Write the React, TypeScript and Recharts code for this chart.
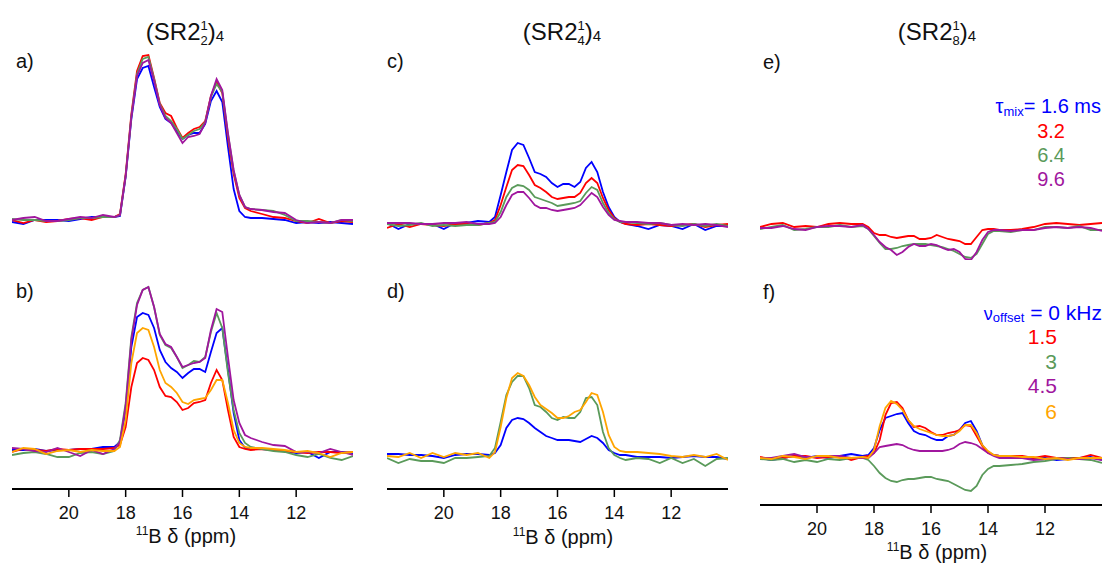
import { LineChart, Line, XAxis, YAxis } from 'recharts';

// chemical shift (ppm), shared by every spectrum
const PPM = [
  22.0, 21.6, 21.2, 20.8, 20.4, 20.0, 19.6, 19.2, 18.8, 18.4,
  18.2, 18.0, 17.8, 17.6, 17.4, 17.2, 17.0, 16.8, 16.6, 16.4, 16.2, 16.0,
  15.8, 15.6, 15.4, 15.2, 15.0, 14.8, 14.6, 14.4, 14.2, 14.0, 13.8, 13.6,
  13.2, 12.8, 12.4, 12.0, 11.6, 11.2, 10.8, 10.4, 10.0,
];
const TICKS = [20, 18, 16, 14, 12];

// a) (SR2 1 2)4, tau_mix series
const A_BLUE = [-3, -5, -1, -1, -1, -2, 0, 2, 2, 2, 3, 42, 100, 140, 151, 153, 132, 112, 100, 96, 88, 80, 84, 86, 86, 95, 118, 128, 117, 72, 30, 8, 2, 1, 1, 0, -1, -4, -3, -4, -3, -4, -5];
const A_RED = [-1, -4, -1, -3, -2, 0, 1, -1, 2, 2, 5, 45, 105, 148, 163, 164, 141, 116, 106, 103, 91, 81, 86, 90, 92, 98, 123, 137, 126, 81, 45, 21, 11, 8, 5, 2, 1, -2, -4, 0, -4, -2, -3];
const A_GREEN = [0, -1, -1, -2, -2, -1, 1, 1, 2, 2, 4, 43, 103, 145, 160, 162, 140, 115, 103, 98, 90, 80, 84, 88, 90, 97, 122, 135, 127, 85, 48, 24, 12, 10, 9, 8, 4, -2, -2, -3, -4, -1, -2];
const A_PURPLE = [-1, 1, 2, -2, -2, 0, 2, 1, 4, 2, 4, 43, 102, 143, 156, 159, 138, 114, 101, 96, 86, 76, 82, 83, 85, 96, 123, 140, 129, 86, 49, 24, 12, 10, 9, 7, 6, -1, -4, -3, -4, -1, -1];

// b) (SR2 1 2)4, offset series
const B_BLUE = [0, 0, 1, -1, 0, 0, 1, 1, 3, 3, 8, 40, 103, 133, 137, 135, 122, 100, 88, 82, 78, 72, 77, 81, 81, 78, 98, 117, 122, 80, 37, 10, 2, 1, 1, 0, -1, -3, -2, -8, -2, -2, -3];
const B_RED = [-2, 1, 0, -1, 1, 0, 1, 1, 1, 2, 5, 23, 63, 87, 92, 90, 80, 63, 54, 53, 48, 40, 42, 47, 48, 50, 67, 80, 70, 40, 13, 3, 1, 0, 1, 0, -1, -2, -3, -2, -2, -3, -2];
const B_GREEN = [-5, -3, -2, -4, -7, -7, -3, -2, -4, -1, 10, 47, 113, 147, 160, 163, 143, 115, 105, 102, 93, 82, 85, 89, 88, 93, 118, 137, 122, 77, 40, 17, 7, 3, 1, -1, -2, -5, -7, -4, -8, -10, -6];
const B_PURPLE = [2, 1, -1, -2, 2, -2, -6, 0, -4, 1, 8, 44, 110, 145, 160, 163, 143, 116, 106, 103, 93, 83, 85, 87, 88, 92, 120, 141, 138, 93, 50, 27, 15, 12, 8, 5, 4, -2, -2, -3, 1, -2, -5];
const B_ORANGE = [-2, 2, 1, -4, -1, 0, -2, 0, -1, -1, 3, 30, 87, 117, 122, 120, 103, 80, 67, 63, 57, 48, 46, 50, 51, 52, 60, 70, 70, 47, 20, 7, 3, 2, 2, 1, 0, -2, -1, -3, -7, -3, -2];

// c) (SR2 1 4)4
const C_BLUE = [2, -4, 1, 1, 1, -4, 2, 2, 4, 3, 8, 30, 53, 75, 82, 80, 67, 53, 51, 48, 42, 38, 41, 41, 38, 43, 57, 63, 53, 33, 18, 8, 3, 1, -1, -4, 0, -1, -4, 1, -5, -1, -1];
const C_RED = [-3, 1, -2, 1, 0, -1, 1, 1, 0, 2, 5, 20, 38, 55, 60, 59, 50, 40, 37, 33, 28, 26, 27, 28, 28, 32, 42, 47, 42, 27, 15, 7, 3, 1, 0, 1, 0, -1, 0, 1, -2, 0, 1];
const C_GREEN = [1, -1, 0, 2, -1, 0, -1, 0, 0, 2, 3, 13, 28, 37, 40, 39, 35, 28, 26, 24, 22, 19, 20, 21, 22, 24, 32, 38, 35, 22, 12, 6, 3, 3, 2, 1, 2, 0, -1, 1, -1, 1, -1];
const C_PURPLE = [2, 2, 2, 1, 1, 2, 2, 3, 1, 1, 2, 8, 20, 30, 33, 33, 27, 20, 17, 17, 15, 14, 15, 16, 17, 20, 26, 32, 28, 18, 10, 5, 4, 3, 3, 2, 2, 0, 1, 0, 1, 0, -2];

// d) (SR2 1 4)4
const D_BLUE = [1, 1, 0, 0, -1, -3, 0, 1, 1, 0, 2, 10, 27, 35, 37, 36, 32, 27, 23, 19, 17, 15, 15, 15, 14, 13, 16, 19, 17, 12, 5, 2, 0, 0, -2, -2, -2, -3, -2, -1, -2, -2, -4];
const D_GREEN = [-3, -8, -4, -6, -6, -8, -3, -3, -2, -1, 7, 33, 60, 73, 79, 79, 67, 50, 48, 43, 37, 35, 38, 37, 37, 43, 57, 58, 50, 23, 7, 0, -3, -5, -3, -4, -8, -3, -8, -4, -11, -4, -3];
const D_ORANGE = [-1, -2, 2, -3, 2, -2, 2, 0, 2, -3, 3, 28, 57, 77, 82, 79, 70, 58, 50, 46, 42, 37, 37, 39, 43, 45, 53, 62, 60, 43, 20, 8, 4, 3, 3, 2, 1, -1, -2, 0, -2, 1, -5];

// e) (SR2 1 8)4
const E_RED = [0, 3, 4, 0, 1, 0, 3, 4, 3, 3, 0, -6, -8, -8, -10, -11, -10, -9, -9, -12, -12, -11, -8, -10, -12, -13, -14, -17, -17, -10, -3, -2, -2, -3, -3, -2, 0, 3, 4, 3, 2, 3, 4];
const E_GREEN = [-2, 0, 2, -3, -2, 0, 0, 2, 0, 1, -2, -9, -16, -22, -22, -21, -19, -18, -17, -17, -17, -18, -19, -20, -22, -24, -27, -30, -31, -27, -17, -7, -4, -4, -5, -3, -3, 0, 0, -1, 1, -3, -3];
const E_PURPLE = [-1, -1, 1, -2, -3, 0, 1, 1, 0, 2, -2, -8, -15, -20, -23, -28, -25, -20, -17, -19, -19, -17, -18, -21, -23, -22, -25, -32, -33, -25, -13, -5, -3, -3, -4, -3, -3, -1, 0, -1, 0, -1, -4];

// f) (SR2 1 8)4
const F_BLUE = [0, -2, 0, 2, 0, 2, 0, 2, 4, 2, 3, 10, 28, 40, 42, 44, 45, 35, 27, 24, 23, 20, 18, 18, 22, 23, 28, 35, 37, 27, 13, 6, 3, 2, 2, 1, 0, 0, -2, -1, 0, 1, -2];
const F_RED = [1, -1, 0, 2, 2, 0, 1, 2, -2, 1, 2, 5, 18, 43, 55, 56, 50, 38, 31, 32, 30, 26, 23, 23, 25, 26, 28, 33, 32, 22, 12, 5, 3, 2, 2, 2, 0, 2, 0, 0, 0, 3, 0];
const F_GREEN = [-1, -2, -1, -4, -2, -4, -1, -2, 0, 0, -2, -8, -15, -20, -23, -24, -22, -21, -21, -20, -19, -19, -21, -22, -23, -26, -29, -32, -33, -28, -17, -11, -8, -8, -7, -6, -4, -3, -1, 0, -1, -2, -5];
const F_PURPLE = [0, 0, 2, 4, 1, 1, 2, 2, 0, 0, 0, 5, 11, 12, 13, 14, 13, 10, 8, 7, 7, 7, 7, 7, 8, 10, 14, 16, 15, 13, 9, 5, 2, 0, 0, 0, -2, -1, 0, -1, -1, 0, -2];
const F_ORANGE = [0, -1, 2, 1, -1, 2, 2, 0, 0, 1, 0, 8, 32, 50, 57, 54, 48, 38, 32, 29, 27, 25, 23, 22, 22, 23, 27, 33, 33, 25, 13, 7, 3, 2, 2, 1, 1, -1, 0, -2, 0, 0, 0];

const BLUE = '#0000ff';
const RED = '#ff0000';
const GREEN = '#5a9a5a';
const PURPLE = '#a0169e';
const ORANGE = '#ffa500';
const FONT = '"Liberation Sans", Arial, sans-serif';

type Series = { key: string; color: string; values: number[] };

function Spectrum({ left, top, width, plotHeight, domain, lines, axis = false }: {
  left: number; top: number; width: number; plotHeight: number;
  domain: [number, number]; lines: Series[]; axis?: boolean;
}) {
  const data = PPM.map((ppm, i) => {
    const row: any = { ppm };
    lines.forEach((l) => { row[l.key] = l.values[i]; });
    return row;
  });
  const axisHeight = axis ? 50 : 0;
  return (
    <div style={{ position: 'absolute', left, top }}>
      <LineChart width={width} height={plotHeight + axisHeight} data={data}
        margin={{ top: 0, right: 0, bottom: 0, left: 0 }}>
        <XAxis dataKey="ppm" type="number" domain={[10, 22]} reversed allowDataOverflow
          ticks={TICKS} interval={0} hide={!axis} height={axisHeight}
          axisLine={{ stroke: '#000', strokeWidth: 2 }}
          tickLine={{ stroke: '#000', strokeWidth: 1.5 }}
          tickSize={8} tickMargin={9}
          tick={{ fontSize: 18, fill: '#111', fontFamily: FONT }} />
        <YAxis hide type="number" domain={domain} allowDataOverflow />
        {lines.map((l) => (
          <Line key={l.key} dataKey={l.key} type="linear" stroke={l.color} strokeWidth={1.8}
            dot={false} isAnimationActive={false} />
        ))}
      </LineChart>
    </div>
  );
}

function Title({ x, sub }: { x: number; sub: string }) {
  return (
    <text x={x} y={40} textAnchor="middle" fontSize={24} fill="#111">
      (SR2
      <tspan fontSize={13} dy={-10}>1</tspan>
      <tspan fontSize={13} dx={-7.2} dy={15}>{sub}</tspan>
      <tspan fontSize={24} dy={-5}>)</tspan>
      <tspan fontSize={15} dy={1}>4</tspan>
    </text>
  );
}

function AxisTitle({ x, y }: { x: number; y: number }) {
  return (
    <text x={x} y={y} textAnchor="middle" fontSize={20} fill="#111">
      <tspan fontSize={12} dy={-8}>11</tspan>
      <tspan dy={8}>B δ (ppm)</tspan>
    </text>
  );
}

export default function App() {
  return (
    <div style={{ position: 'absolute', left: 0, top: 0, width: 1104, height: 564, background: '#fff', fontFamily: FONT }}>
      <Spectrum left={12} top={40} width={341} plotHeight={200} domain={[-21, 179]}
        lines={[
          { key: 'blue', color: BLUE, values: A_BLUE },
          { key: 'red', color: RED, values: A_RED },
          { key: 'green', color: GREEN, values: A_GREEN },
          { key: 'purple', color: PURPLE, values: A_PURPLE },
        ]} />
      <Spectrum left={12} top={270} width={341} plotHeight={219} domain={[-39, 180]} axis
        lines={[
          { key: 'blue', color: BLUE, values: B_BLUE },
          { key: 'red', color: RED, values: B_RED },
          { key: 'green', color: GREEN, values: B_GREEN },
          { key: 'purple', color: PURPLE, values: B_PURPLE },
          { key: 'orange', color: ORANGE, values: B_ORANGE },
        ]} />
      <Spectrum left={387} top={40} width={341} plotHeight={200} domain={[-15, 185]}
        lines={[
          { key: 'blue', color: BLUE, values: C_BLUE },
          { key: 'red', color: RED, values: C_RED },
          { key: 'green', color: GREEN, values: C_GREEN },
          { key: 'purple', color: PURPLE, values: C_PURPLE },
        ]} />
      <Spectrum left={387} top={270} width={341} plotHeight={219} domain={[-34, 185]} axis
        lines={[
          { key: 'blue', color: BLUE, values: D_BLUE },
          { key: 'green', color: GREEN, values: D_GREEN },
          { key: 'orange', color: ORANGE, values: D_ORANGE },
        ]} />
      <Spectrum left={760} top={40} width={342} plotHeight={220} domain={[-33, 187]}
        lines={[
          { key: 'red', color: RED, values: E_RED },
          { key: 'green', color: GREEN, values: E_GREEN },
          { key: 'purple', color: PURPLE, values: E_PURPLE },
        ]} />
      <Spectrum left={760} top={270} width={342} plotHeight={235} domain={[-47, 188]} axis
        lines={[
          { key: 'blue', color: BLUE, values: F_BLUE },
          { key: 'red', color: RED, values: F_RED },
          { key: 'green', color: GREEN, values: F_GREEN },
          { key: 'purple', color: PURPLE, values: F_PURPLE },
          { key: 'orange', color: ORANGE, values: F_ORANGE },
        ]} />

      <svg width={1104} height={564} style={{ position: 'absolute', left: 0, top: 0, pointerEvents: 'none' }}
        fontFamily={FONT}>
        <Title x={185} sub="2" />
        <Title x={562} sub="4" />
        <Title x={937} sub="8" />

        <text x={16} y={68} fontSize={20} fill="#111">a)</text>
        <text x={16} y={298} fontSize={20} fill="#111">b)</text>
        <text x={387} y={68} fontSize={20} fill="#111">c)</text>
        <text x={387} y={298} fontSize={20} fill="#111">d)</text>
        <text x={763} y={69} fontSize={20} fill="#111">e)</text>
        <text x={763} y={299} fontSize={20} fill="#111">f)</text>

        <text x={1101} y={113} textAnchor="end" fontSize={20} fill={BLUE}>
          τ<tspan fontSize={13} dy={3}>mix</tspan><tspan dy={-3}>= 1.6 ms</tspan>
        </text>
        <text x={1065} y={138} textAnchor="end" fontSize={20} fill={RED}>3.2</text>
        <text x={1065} y={162} textAnchor="end" fontSize={20} fill={GREEN}>6.4</text>
        <text x={1065} y={186} textAnchor="end" fontSize={20} fill={PURPLE}>9.6</text>

        <text x={1102} y={320} textAnchor="end" fontSize={21} fill={BLUE}>
          <tspan fontSize={18}>ν</tspan><tspan fontSize={13} dy={2}>offset</tspan><tspan dy={-2}> = 0 kHz</tspan>
        </text>
        <text x={1057} y={344} textAnchor="end" fontSize={21} fill={RED}>1.5</text>
        <text x={1057} y={369} textAnchor="end" fontSize={21} fill={GREEN}>3</text>
        <text x={1057} y={393} textAnchor="end" fontSize={21} fill={PURPLE}>4.5</text>
        <text x={1057} y={419} textAnchor="end" fontSize={21} fill={ORANGE}>6</text>

        <AxisTitle x={186} y={543} />
        <AxisTitle x={563} y={544} />
        <AxisTitle x={937} y={559} />
      </svg>
    </div>
  );
}
